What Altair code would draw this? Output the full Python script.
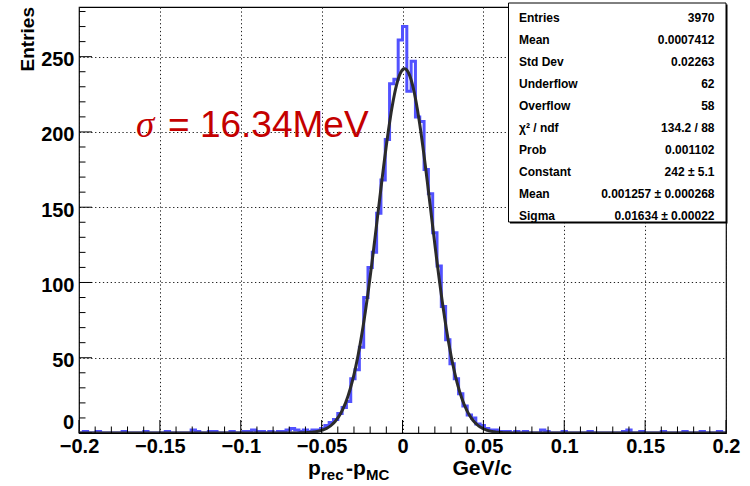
import altair as alt
import numpy as np
import pandas as pd

# ---------------- data ----------------
XMIN, XMAX, NBINS = -0.2, 0.2, 150

# bin contents, bins 0..52 (left tail)
left_tail = [0, 1, 0, 0, 1, 0, 0, 0, 0, 0,
             1, 0, 0, 0, 0, 1, 0, 0, 0, 0,
             1, 0, 0, 0, 0, 0, 2, 1, 0, 0,
             1, 1, 0, 0, 0, 1, 0, 0, 1, 1,
             2, 1, 1, 0, 1, 0, 1, 1, 2, 3,
             2, 1, 2]
# bins 53..97 (core)
core = [1, 2, 2, 3, 5, 7, 9, 13, 17, 21,
        36, 42, 57, 90, 110, 120, 146, 168, 195, 232,
        235, 261, 270, 227, 247, 210, 207, 175, 159, 133,
        111, 84, 62, 46, 36, 26, 18, 12, 10, 6,
        5, 3, 2, 2, 1]
# bins 98..149 (right tail)
right_tail = [1, 1, 0, 1, 0, 1, 0, 0, 0, 2,
              1, 0, 0, 0, 1, 0, 0, 0, 0, 0,
              1, 0, 0, 0, 0, 0, 0, 0, 1, 2,
              0, 0, 1, 0, 0, 0, 0, 1, 0, 0,
              0, 0, 1, 0, 0, 0, 1, 0, 0, 0,
              1, 0]
counts = left_tail + core + right_tail
assert len(counts) == NBINS

# fit parameters (from the stats box)
fit_const, fit_mean, fit_sigma = 242.0, 0.001257, 0.01634

stat_labels = ["Entries", "Mean", "Std Dev", "Underflow", "Overflow",
               "\u03c7\u00b2 / ndf", "Prob", "Constant", "Mean", "Sigma"]
stat_values = ["3970", "0.0007412", "0.02263", "62", "58",
               "134.2 / 88", "0.001102", "242 \u00b1 5.1",
               "0.001257 \u00b1 0.000268", "0.01634 \u00b1 0.00022"]

x_major = [-0.2, -0.15, -0.1, -0.05, 0.0, 0.05, 0.1, 0.15, 0.2]
x_minor = [round(-0.2 + 0.01 * i, 3) for i in range(41) if i % 5]
y_major = [0, 50, 100, 150, 200, 250]
y_minor = [v for v in range(10, 290, 10) if v % 50]

# ---------------- tables ----------------
edges = np.linspace(XMIN, XMAX, NBINS + 1)
hist_df = pd.DataFrame({"x": edges, "n": counts + [counts[-1]]})

xf = np.linspace(XMIN, XMAX, 1201)
fit_df = pd.DataFrame({"x": xf,
                       "n": fit_const * np.exp(-0.5 * ((xf - fit_mean) / fit_sigma) ** 2)})

stats_df = pd.DataFrame({"label": stat_labels, "value": stat_values,
                         "row": list(range(len(stat_labels)))})

W, H = 647, 426
FONT = "Liberation Sans"
BLUE = "#5252ff"

xscale = alt.Scale(domain=[XMIN, XMAX], nice=False, zero=False)
yscale = alt.Scale(domain=[0, 283], nice=False)

x_axis = alt.Axis(values=x_major, format=".2~f", title=None,
                  labelFont=FONT, labelFontWeight="bold", labelFontSize=20,
                  labelColor="black", labelPadding=3, tickSize=0, domain=False,
                  grid=True, gridDash=[1.3, 2.6], gridColor="#222222",
                  gridWidth=1, labelFlush=False, labelOverlap=False)
y_axis = alt.Axis(values=y_major[1:], title=None,
                  labelFont=FONT, labelFontWeight="bold", labelFontSize=20,
                  labelColor="black", labelPadding=5, labelOffset=3,
                  tickSize=0, domain=False,
                  grid=True, gridDash=[1.3, 2.6], gridColor="#222222",
                  gridWidth=1, labelFlush=False, labelOverlap=False)

X = lambda f="x": alt.X(f + ":Q", scale=xscale, axis=x_axis)
Y = lambda f="n": alt.Y(f + ":Q", scale=yscale, axis=y_axis)

one = pd.DataFrame({"a": [0]})

hist = alt.Chart(hist_df).mark_line(
    interpolate="step-after", color=BLUE, strokeWidth=3, clip=True
).encode(x=X(), y=Y())

fit = alt.Chart(fit_df).mark_line(color="#2b2b2b", strokeWidth=3, clip=True).encode(
    x=X(), y=Y())

xt_major = alt.Chart(pd.DataFrame({"x": x_major})).mark_rule(color="black", strokeWidth=1).encode(
    x=X(), y=alt.value(H), y2=alt.value(H - 13))
xt_minor = alt.Chart(pd.DataFrame({"x": x_minor})).mark_rule(color="black", strokeWidth=1).encode(
    x=X(), y=alt.value(H), y2=alt.value(H - 6.5))
yt_major = alt.Chart(pd.DataFrame({"n": y_major})).mark_rule(color="black", strokeWidth=1).encode(
    y=Y(), x=alt.value(0), x2=alt.value(13))
yt_minor = alt.Chart(pd.DataFrame({"n": y_minor})).mark_rule(color="black", strokeWidth=1).encode(
    y=Y(), x=alt.value(0), x2=alt.value(6.5))

zero_label = alt.Chart(one).mark_text(
    text="0", font=FONT, fontWeight="bold", fontSize=20, align="right", baseline="middle",
    color="black").encode(x=alt.value(-5), y=alt.value(415.5))

# stats box
shadow = alt.Chart(one).mark_rect(color="black").encode(
    x=alt.value(431), x2=alt.value(648.5), y=alt.value(-2.5), y2=alt.value(216.5))
box = alt.Chart(one).mark_rect(fill="white", stroke="black", strokeWidth=1).encode(
    x=alt.value(429.5), x2=alt.value(647), y=alt.value(-4), y2=alt.value(215))
stat_lab = alt.Chart(stats_df).transform_calculate(
    py="11.3 + datum.row * 21.95").mark_text(
    font=FONT, fontWeight="bold", fontSize=12, align="left", baseline="middle", color="black"
).encode(x=alt.value(440), y=alt.Y("py:Q", scale=None), text="label:N")
stat_val = alt.Chart(stats_df).transform_calculate(
    py="11.3 + datum.row * 21.95").mark_text(
    font=FONT, fontWeight="bold", fontSize=12, align="right", baseline="middle", color="black"
).encode(x=alt.value(635.5), y=alt.Y("py:Q", scale=None), text="value:N")

# sigma annotation
RED = "#c40000"
sig1 = alt.Chart(one).mark_text(
    text="\u03c3", font="Liberation Serif", fontStyle="italic", fontSize=37,
    align="left", baseline="alphabetic", color=RED).encode(x=alt.value(57), y=alt.value(129.7))
sig2 = alt.Chart(one).mark_text(
    text="= 16.34MeV", font=FONT, fontSize=37,
    align="left", baseline="alphabetic", color=RED).encode(x=alt.value(89), y=alt.value(129.7))

# axis titles
TB = 475 - 7  # baseline of the x title (plot coords)
parts = [("p", 229, 0, 21, "left"), ("rec", 242, 5, 15, "left"),
         ("-p", 267, 0, 21, "left"), ("MC", 287, 5, 15, "left"),
         ("GeV/c", 433, 0, 21, "right")]
xtitle_layers = []
for txt, xx, dy, fs, al in parts:
    xtitle_layers.append(alt.Chart(one).mark_text(
        text=txt, font=FONT, fontWeight="bold", fontSize=fs, align=al,
        baseline="alphabetic", color="black").encode(x=alt.value(xx), y=alt.value(TB + dy)))

ytitle = alt.Chart(one).mark_text(
    text="Entries", font=FONT, fontWeight="bold", fontSize=19, angle=270,
    align="right", baseline="middle", color="black").encode(x=alt.value(-51), y=alt.value(0))

chart = alt.layer(
    hist, fit, xt_major, xt_minor, yt_major, yt_minor, zero_label,
    shadow, box, stat_lab, stat_val, sig1, sig2, ytitle, *xtitle_layers
).properties(
    width=W, height=H,
    autosize=alt.AutoSizeParams(type="none"),
    padding={"left": 79, "top": 7, "right": 24, "bottom": 53},
    background="white",
).configure_view(stroke="black", strokeWidth=1.2)

chart.save("out.html", embed_options={"renderer": "svg", "actions": False})
